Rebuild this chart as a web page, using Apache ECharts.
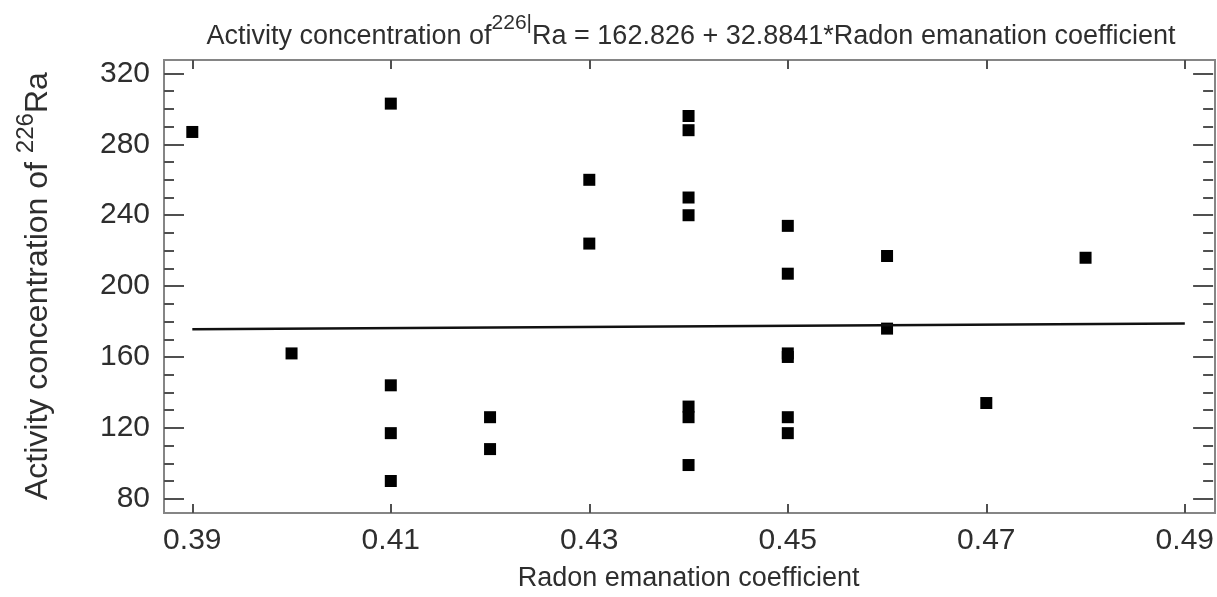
<!DOCTYPE html>
<html><head><meta charset="utf-8">
<script src="https://cdn.jsdelivr.net/npm/echarts@6/dist/echarts.min.js"></script>
<style>html,body{margin:0;padding:0;background:#fff}#c{width:1217px;height:597px}</style>
</head><body><div id="c"></div>
<script>
// Data
const xValues = [0.39, 0.40, 0.41, 0.41, 0.41, 0.41, 0.42, 0.42, 0.43, 0.43,
                 0.44, 0.44, 0.44, 0.44, 0.44, 0.44, 0.44,
                 0.45, 0.45, 0.45, 0.45, 0.45, 0.45, 0.46, 0.46, 0.47, 0.48];
const yValues = [287, 162, 303, 144, 117, 90, 126, 108, 260, 224,
                 296, 288, 250, 240, 132, 126, 99,
                 234, 207, 162, 160, 126, 117, 217, 176, 134, 216];
// Fitted line: 162.826 + 32.8841*x at the two ends of the x range
const fitX = [0.39, 0.49];
const fitY = [175.65, 178.94];
const xTicks = [0.39, 0.41, 0.43, 0.45, 0.47, 0.49];
const yTicks = [80, 120, 160, 200, 240, 280, 320];

const FONT = 'Liberation Sans, Arial, sans-serif';
const TXT = '#2e2e2e';
const TICK = { color: '#505050', width: 2 };

const chart = echarts.init(document.getElementById('c'), null, { renderer: 'canvas' });
const xMin = xTicks[0], xMax = xTicks[xTicks.length - 1];
const yMin = yTicks[0], yMax = yTicks[yTicks.length - 1];
const xInt = +(xTicks[1] - xTicks[0]).toFixed(4), yInt = yTicks[1] - yTicks[0];

const yName = '{m|Activity concentration of }{s|226}{m|Ra}';
const option = {
  animation: false,
  backgroundColor: '#fff',
  grid: [
    { left: 164, right: 2, top: 60, bottom: 84, show: true, borderColor: '#858585', borderWidth: 2, backgroundColor: 'transparent' },
    { left: 192.3, right: 30.3, top: 73.5, bottom: 98 }
  ],
  graphic: [{
    type: 'text', x: 691, y: 13, silent: true,
    style: {
      text: '{m|Activity concentration of}{s|226|}{m|Ra = 162.826 + 32.8841*Radon emanation coefficient}',
      align: 'center',
      rich: {
        m: { fontFamily: FONT, fontSize: 27, lineHeight: 37, fill: TXT, verticalAlign: 'bottom' },
        s: { fontFamily: FONT, fontSize: 21, lineHeight: 22, fill: TXT, verticalAlign: 'top' }
      }
    }
  }],
  xAxis: [
    { gridIndex: 0, type: 'value', show: false, min: 0, max: 1 },
    {
      gridIndex: 1, type: 'value', position: 'bottom', offset: 14.3,
      min: xMin, max: xMax, interval: xInt,
      axisLine: { show: false },
      axisTick: { show: true, inside: true, length: 9, lineStyle: TICK },
      axisLabel: { margin: 13, fontFamily: FONT, fontSize: 30, color: TXT, formatter: v => v.toFixed(2) },
      splitLine: { show: false },
      name: 'Radon emanation coefficient', nameLocation: 'middle', nameGap: 52,
      nameTextStyle: { fontFamily: FONT, fontSize: 27, color: TXT }
    },
    {
      gridIndex: 1, type: 'value', position: 'top', offset: 13.5,
      min: xMin, max: xMax, interval: xInt,
      axisLine: { show: false },
      axisTick: { show: true, inside: true, length: 9, lineStyle: TICK },
      axisLabel: { show: false }, splitLine: { show: false }
    }
  ],
  yAxis: [
    { gridIndex: 0, type: 'value', show: false, min: 0, max: 1 },
    {
      gridIndex: 1, type: 'value', position: 'left', offset: 28.3,
      min: yMin, max: yMax, interval: yInt,
      axisLine: { show: false },
      axisTick: { show: true, inside: true, length: 20, lineStyle: TICK },
      minorTick: { show: true, splitNumber: 4, length: 10, lineStyle: TICK },
      axisLabel: { margin: 14, fontFamily: FONT, fontSize: 30, color: TXT },
      splitLine: { show: false }, minorSplitLine: { show: false },
      name: yName, nameLocation: 'middle', nameGap: 110, nameRotate: 90,
      nameTextStyle: {
        rich: {
          m: { fontFamily: FONT, fontSize: 32, lineHeight: 40, color: TXT, verticalAlign: 'bottom' },
          s: { fontFamily: FONT, fontSize: 24, lineHeight: 26, color: TXT, verticalAlign: 'top' }
        }
      }
    },
    {
      gridIndex: 1, type: 'value', position: 'right', offset: 28.3,
      min: yMin, max: yMax, interval: yInt,
      axisLine: { show: false },
      axisTick: { show: true, inside: true, length: 20, lineStyle: TICK },
      minorTick: { show: true, splitNumber: 4, length: 10, lineStyle: TICK },
      axisLabel: { show: false }, splitLine: { show: false }, minorSplitLine: { show: false }
    }
  ],
  series: [
    {
      type: 'scatter', xAxisIndex: 1, yAxisIndex: 1, clip: false,
      symbol: 'rect', symbolSize: 12,
      itemStyle: { color: '#000', opacity: 1 },
      data: xValues.map((x, i) => [x, yValues[i]])
    },
    {
      type: 'line', xAxisIndex: 1, yAxisIndex: 1, clip: false,
      showSymbol: false, symbol: 'none',
      lineStyle: { color: '#111', width: 2.5 },
      data: fitX.map((x, i) => [x, fitY[i]]),
      z: 3
    }
  ]
};
chart.setOption(option);
</script>
</body></html>
